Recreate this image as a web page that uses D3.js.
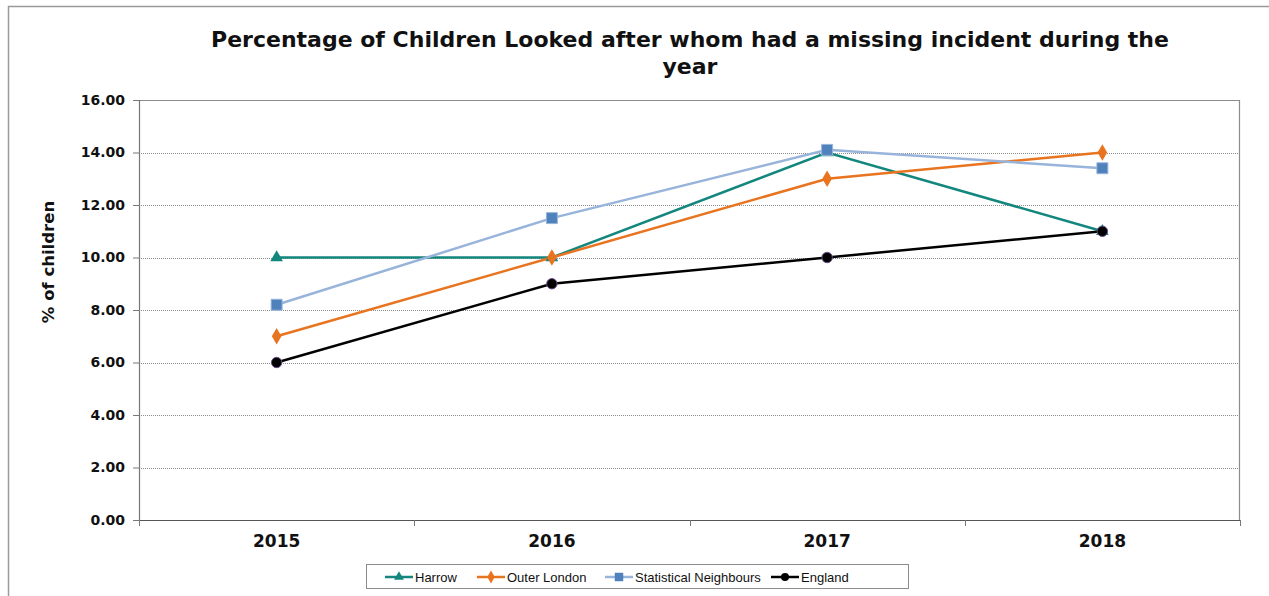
<!DOCTYPE html>
<html>
<head>
<meta charset="utf-8">
<script src="https://cdn.jsdelivr.net/npm/d3@7.9.0/dist/d3.min.js"></script>
<style>
  body { margin: 0; background: #fff; }
  svg { display: block; }
</style>
</head>
<body>
<div id="chart"></div>
<script>
// data
const years = ["2015", "2016", "2017", "2018"];
const harrow = [10, 10, 14, 11];
const outerLondon = [7, 10, 13, 14];
const statNeighbours = [8.2, 11.5, 14.1, 13.4];
const england = [6, 9, 10, 11];
const yTicks = [0, 2, 4, 6, 8, 10, 12, 14, 16];

const series = [
  { name: "Harrow", values: harrow, color: "#13877e", fill: "#13877e", symbol: d3.symbolTriangle, size: 70 },
  { name: "Outer London", values: outerLondon, color: "#e8741f", fill: "#e8741f", symbol: d3.symbolDiamond, size: 80 },
  { name: "Statistical Neighbours", values: statNeighbours, color: "#98b4da", fill: "#4f81bd", symbol: d3.symbolSquare, size: 120 },
  { name: "England", values: england, color: "#000000", fill: "#000000", symbol: d3.symbolCircle, size: 85 }
];

// config
const width = 1269,
  height = 596;
const margin = { left: 139, top: 100, right: 1240, bottom: 520 };
const font = "'DejaVu Sans', Verdana, sans-serif";

const svg = d3
  .select("#chart")
  .append("svg")
  .attr("width", width)
  .attr("height", height);

// outer frame
svg
  .append("rect")
  .attr("x", 8.5)
  .attr("y", 6.5)
  .attr("width", width + 20)
  .attr("height", height + 20)
  .attr("fill", "#fff")
  .attr("stroke", "#9a9a9a")
  .attr("stroke-width", 1.5);

const x = d3
  .scaleBand()
  .domain(years)
  .range([margin.left, margin.right]);

const y = d3
  .scaleLinear()
  .domain([0, 16])
  .range([margin.bottom, margin.top]);

// gridlines
svg
  .append("g")
  .selectAll("line")
  .data(yTicks.filter((d) => d > 0 && d < 16))
  .join("line")
  .attr("x1", margin.left)
  .attr("x2", margin.right)
  .attr("y1", (d) => Math.round(y(d)) + 0.5)
  .attr("y2", (d) => Math.round(y(d)) + 0.5)
  .attr("stroke", "#8c8c8c")
  .attr("stroke-width", 1)
  .attr("stroke-dasharray", "1,1");

// plot frame (top and right)
svg
  .append("path")
  .attr("d", `M${margin.left},${margin.top + 0.5}H${margin.right - 0.5}V${margin.bottom}`)
  .attr("fill", "none")
  .attr("stroke", "#8c8c8c")
  .attr("stroke-width", 1.2);

// y axis
const yAxis = svg
  .append("g")
  .attr("transform", `translate(${margin.left},0)`)
  .call(
    d3.axisLeft(y)
      .tickValues(yTicks)
      .tickFormat(d3.format(".2f"))
      .tickSize(6)
      .tickPadding(8)
  );
yAxis.select(".domain").attr("stroke", "#777").attr("stroke-width", 1.2);
yAxis.selectAll(".tick line").attr("stroke", "#777");
yAxis
  .selectAll("text")
  .style("font-family", font)
  .style("font-weight", "bold")
  .style("font-size", "14px")
  .attr("fill", "#111");

// x axis
const xAxis = svg
  .append("g")
  .attr("transform", `translate(0,${margin.bottom})`)
  .call(d3.axisBottom(x).tickSize(0).tickPadding(15));
xAxis.select(".domain").attr("stroke", "#555").attr("stroke-width", 1.2);
xAxis
  .selectAll("text")
  .style("font-family", font)
  .style("font-weight", "bold")
  .style("font-size", "17px")
  .attr("fill", "#111");

// category boundary ticks
svg
  .append("g")
  .selectAll("line")
  .data(years.concat(["end"]))
  .join("line")
  .attr("x1", (d, i) => Math.round(margin.left + i * x.bandwidth()) + 0.5)
  .attr("x2", (d, i) => Math.round(margin.left + i * x.bandwidth()) + 0.5)
  .attr("y1", margin.bottom)
  .attr("y2", margin.bottom + 6)
  .attr("stroke", "#777");

// y title
svg
  .append("text")
  .attr("transform", `translate(54,${(margin.top + margin.bottom) / 2 - 48}) rotate(-90)`)
  .attr("text-anchor", "middle")
  .style("font-family", font)
  .style("font-weight", "bold")
  .style("font-size", "16.5px")
  .attr("fill", "#111")
  .text("% of children");

// title
const title = svg
  .append("text")
  .attr("text-anchor", "middle")
  .style("font-family", font)
  .style("font-weight", "bold")
  .style("font-size", "22px")
  .attr("fill", "#111");
title
  .append("tspan")
  .attr("x", 690)
  .attr("y", 47)
  .text("Percentage of Children Looked after whom had a missing incident during the");
title
  .append("tspan")
  .attr("x", 690)
  .attr("y", 74)
  .text("year");

// lines
const line = d3
  .line()
  .x((d, i) => x(years[i]) + x.bandwidth() / 2)
  .y((d) => y(d));

series.forEach((s) => {
  svg
    .append("path")
    .datum(s.values)
    .attr("d", line)
    .attr("fill", "none")
    .attr("stroke", s.color)
    .attr("stroke-width", 2.5);
});

series.forEach((s) => {
  svg
    .append("g")
    .selectAll("path")
    .data(s.values)
    .join("path")
    .attr("transform", (d, i) => `translate(${x(years[i]) + x.bandwidth() / 2},${y(d)})`)
    .attr("d", d3.symbol().type(s.symbol).size(s.size))
    .attr("fill", s.fill)
    .attr("stroke", s.name === "England" ? "#6a4c8c" : s.name === "Statistical Neighbours" ? "#98b4da" : "none")
    .attr("stroke-width", 1);
});

// legend
const legend = svg.append("g");
legend
  .append("rect")
  .attr("x", 366.5)
  .attr("y", 564.5)
  .attr("width", 542)
  .attr("height", 24)
  .attr("fill", "#fff")
  .attr("stroke", "#8c8c8c");

const legendX = [385, 477, 605, 771];
series.forEach((s, i) => {
  const g = legend.append("g").attr("transform", `translate(${legendX[i]},577)`);
  g.append("line")
    .attr("x1", 0)
    .attr("x2", 28)
    .attr("stroke", s.color)
    .attr("stroke-width", 2.5);
  g.append("path")
    .attr("transform", "translate(14,0)")
    .attr("d", d3.symbol().type(s.symbol).size(s.size * 0.6))
    .attr("fill", s.fill);
  g.append("text")
    .attr("x", 30)
    .attr("y", 4.5)
    .style("font-family", "'Liberation Sans', Arial, sans-serif")
    .style("font-size", "13px")
    .attr("fill", "#111")
    .text(s.name);
});
</script>
</body>
</html>
